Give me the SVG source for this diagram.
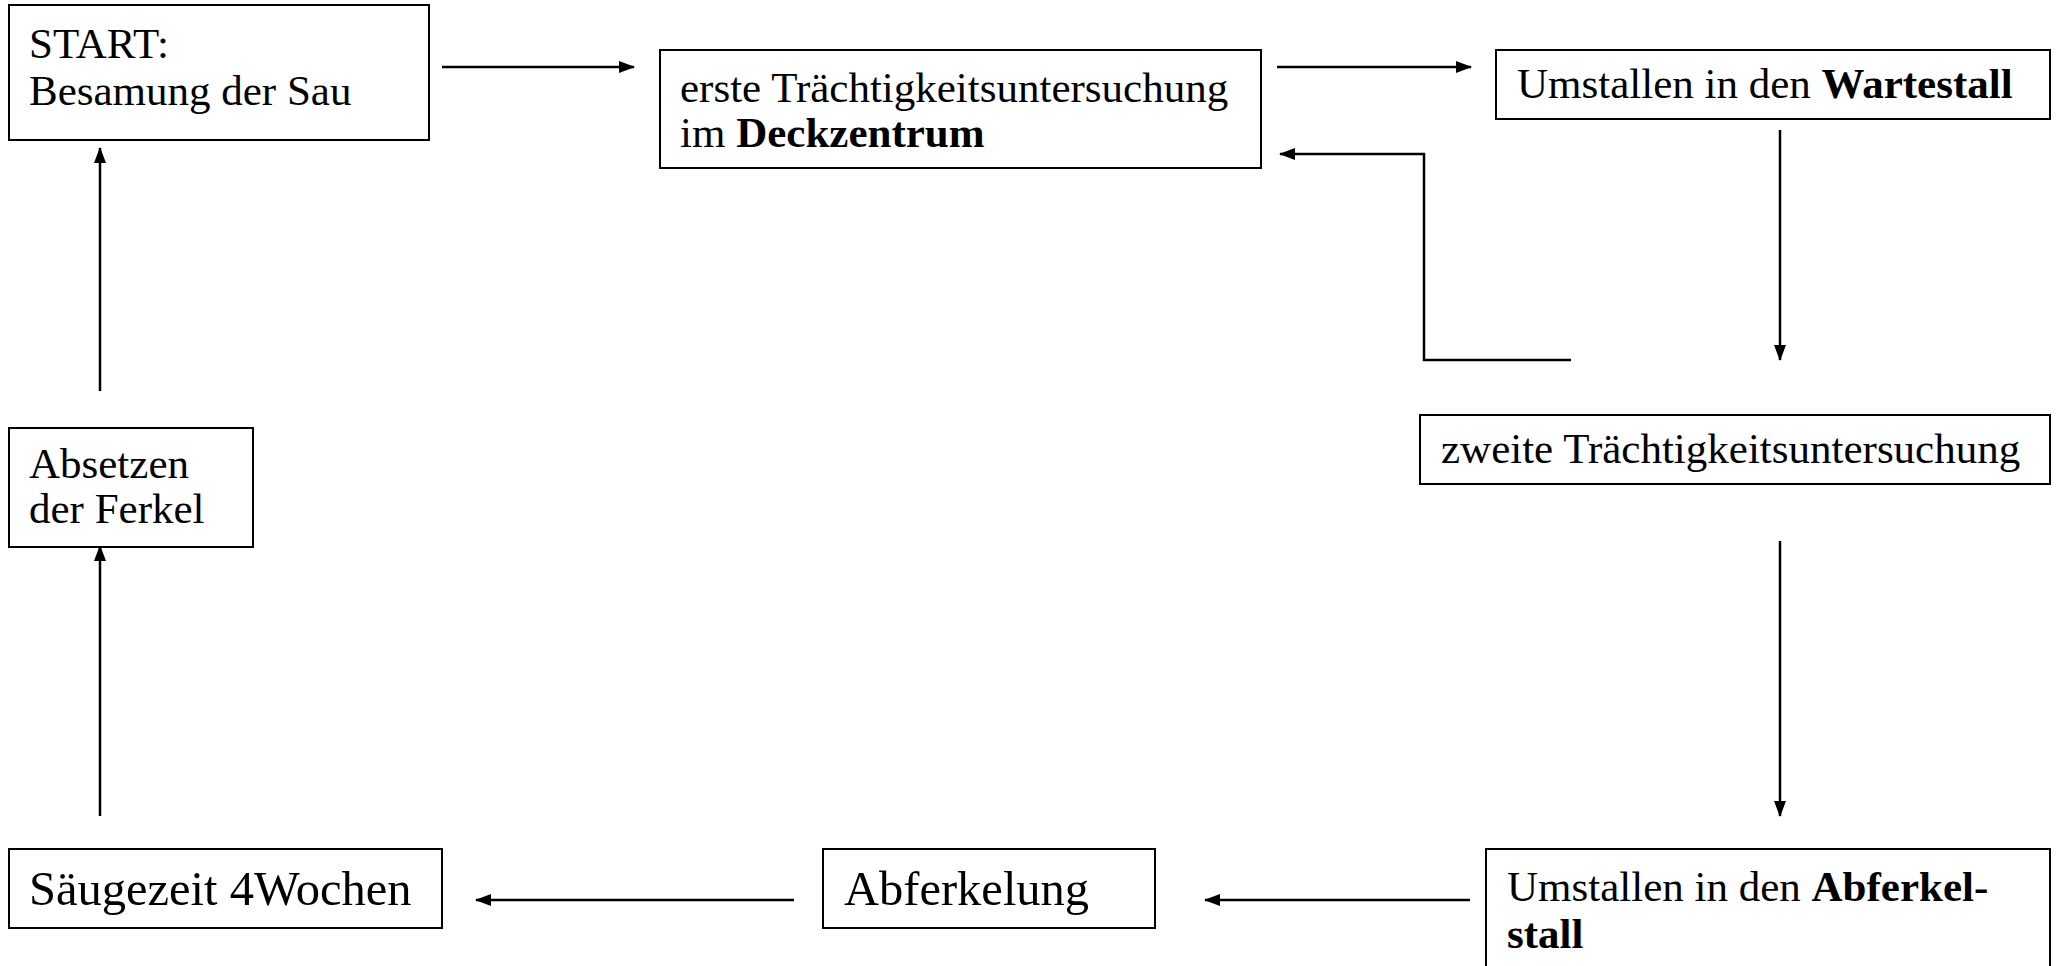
<svg xmlns="http://www.w3.org/2000/svg" width="2058" height="966" viewBox="0 0 2058 966">
<style>
.box{fill:#fff;stroke:#000;stroke-width:2}
.t{font-family:"Liberation Serif","Times New Roman",serif;font-size:43px;fill:#000}
.l{font-size:48.5px}
.b{font-weight:bold}
.c{fill:none;stroke:#000;stroke-width:2.5}
</style>
<defs>
<marker id="ah" markerUnits="userSpaceOnUse" markerWidth="16" markerHeight="12" refX="15" refY="6" orient="auto">
<path d="M0,0 L16,6 L0,12 Z" fill="#000"/>
</marker>
</defs>
<rect width="2058" height="966" fill="#fff"/>
<g id="connectors">
<line class="c" x1="442" y1="67" x2="634" y2="67" marker-end="url(#ah)"/>
<line class="c" x1="1277" y1="67" x2="1471" y2="67" marker-end="url(#ah)"/>
<path class="c" d="M1571,360 L1424,360 L1424,154 L1280,154" marker-end="url(#ah)"/>
<line class="c" x1="1780" y1="130" x2="1780" y2="360" marker-end="url(#ah)"/>
<line class="c" x1="1780" y1="541" x2="1780" y2="816" marker-end="url(#ah)"/>
<line class="c" x1="1470" y1="900" x2="1205" y2="900" marker-end="url(#ah)"/>
<line class="c" x1="794" y1="900" x2="476" y2="900" marker-end="url(#ah)"/>
<line class="c" x1="100" y1="816" x2="100" y2="546" marker-end="url(#ah)"/>
<line class="c" x1="100" y1="391" x2="100" y2="148" marker-end="url(#ah)"/>
</g>
<g id="start">
<rect class="box" x="9" y="5" width="420" height="135"/>
<text class="t" x="29" y="58">START:</text>
<text class="t" x="29" y="105">Besamung der Sau</text>
</g>
<g id="erste">
<rect class="box" x="660" y="50" width="601" height="118"/>
<text class="t" x="680" y="102">erste Trächtigkeitsuntersuchung</text>
<text class="t" x="680" y="147">im <tspan class="b">Deckzentrum</tspan></text>
</g>
<g id="wartestall">
<rect class="box" x="1496" y="50" width="554" height="69"/>
<text class="t" x="1517" y="98">Umstallen in den <tspan class="b">Wartestall</tspan></text>
</g>
<g id="zweite">
<rect class="box" x="1420" y="415" width="630" height="69"/>
<text class="t" x="1441" y="463">zweite Trächtigkeitsuntersuchung</text>
</g>
<g id="abferkelstall">
<rect class="box" x="1486" y="849" width="564" height="130"/>
<text class="t" x="1507" y="901">Umstallen in den <tspan class="b">Abferkel-</tspan></text>
<text class="t b" x="1507" y="948">stall</text>
</g>
<g id="abferkelung">
<rect class="box" x="823" y="849" width="332" height="79"/>
<text class="t l" x="844" y="905">Abferkelung</text>
</g>
<g id="saeugezeit">
<rect class="box" x="9" y="849" width="433" height="79"/>
<text class="t l" x="29" y="905">Säugezeit 4Wochen</text>
</g>
<g id="absetzen">
<rect class="box" x="9" y="428" width="244" height="119"/>
<text class="t" x="29" y="478">Absetzen</text>
<text class="t" x="29" y="523">der Ferkel</text>
</g>
</svg>
